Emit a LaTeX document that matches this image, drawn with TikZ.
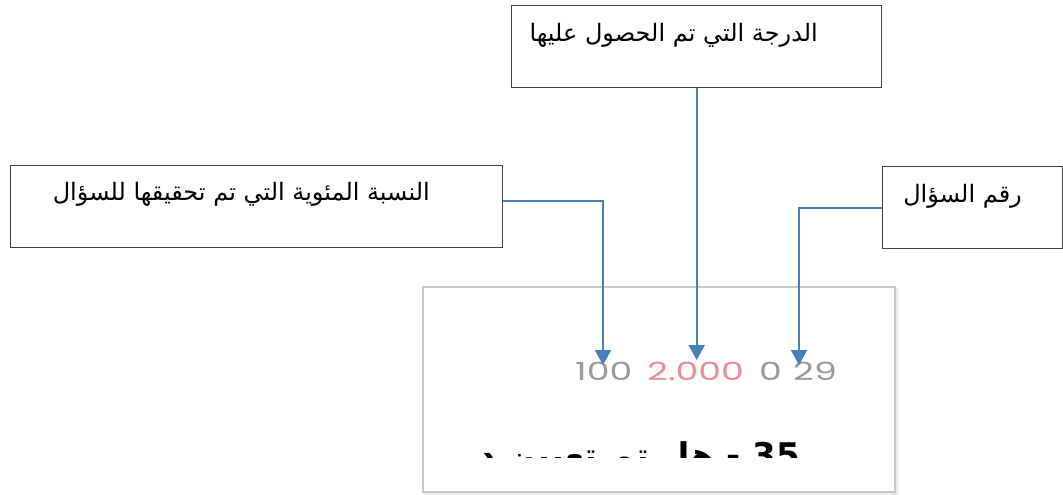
\documentclass[tikz,border=0pt]{standalone}
\usepackage{fontspec}
\setmainfont{DejaVu Sans}
\newfontfamily\arabicfont[Script=Arabic]{DejaVu Sans}
\newfontfamily\numfont{Poppins}
\TeXXeTstate=1
\usetikzlibrary{arrows.meta}
\definecolor{conncol}{HTML}{4A7EBB}
\definecolor{boxline}{HTML}{404040}
\definecolor{numgray}{HTML}{9A9A9A}
\definecolor{numpink}{HTML}{F08A94}
\definecolor{panelline}{HTML}{C8C8C8}
\tikzset{
  callout/.style={draw=boxline, line width=1.3pt, fill=white, inner sep=0pt, anchor=north west},
  lbl/.style={font=\arabicfont\fontsize{24}{28}\selectfont, text=black, inner sep=0pt, anchor=east},
  conn/.style={draw=conncol, line width=2pt, -{Triangle[width=16pt,length=15pt]}},
  num/.style={font=\numfont\fontsize{25}{28}\selectfont, inner sep=0pt, anchor=base west},
}
\newcommand{\wide}[1]{\scalebox{1.45}[1]{#1}}
\begin{document}
\begin{tikzpicture}[x=1pt,y=-1pt]
\useasboundingbox (0,0) rectangle (1063,495);
\fill[white] (0,0) rectangle (1063,495);
% screenshot panel with soft shadow
\fill[black!6] (424,289) rectangle (899,495);
\fill[black!10] (423,288) rectangle (897,494);
\draw[panelline, line width=1.5pt, fill=white] (423,287) rectangle (895,492);
% numbers
\node[num, text=numgray] (n100) at (575,380) {\wide{100}};
\node[num, text=numpink] (n2000) at (647,380) {\wide{2.000}};
\node[num, text=numgray] (n0) at (759,380) {\wide{0}};
\node[num, text=numgray] (n29) at (793,380) {\wide{29}};
% clipped bottom question text
\begin{scope}
\clip (430,430) rectangle (890,457);
\node[font=\arabicfont\bfseries\fontsize{34}{36}\selectfont, anchor=base east, inner sep=0pt] (q) at (800,467) {\beginR\beginL 35\endL{} - هل تم تعيين د\endR};
\end{scope}
% callout boxes
\node[callout, minimum width=370pt, minimum height=82pt] (topbox) at (511,5) {};
\node[callout, minimum width=492pt, minimum height=82pt] (leftbox) at (10,165) {};
\node[callout, minimum width=180pt, minimum height=82pt] (rightbox) at (882,166) {};
\node[lbl] (toptxt) at (818,35) {\beginR الدرجة التي تم الحصول عليها\endR};
\node[lbl] (lefttxt) at (430,194) {\beginR النسبة المئوية التي تم تحقيقها للسؤال\endR};
\node[lbl] (righttxt) at (1022,196) {\beginR رقم السؤال\endR};
% arrow targets
\coordinate (t100) at (603,365);
\coordinate (t2000) at (topbox.south |- 0,360);
\coordinate (t29) at (799,365);
% connectors
\draw[conn] (topbox.south) -- (t2000);
\draw[conn] ([yshift=6pt]leftbox.east) -| (t100);
\draw[conn] (rightbox.west) -| (t29);
\end{tikzpicture}
\end{document}
